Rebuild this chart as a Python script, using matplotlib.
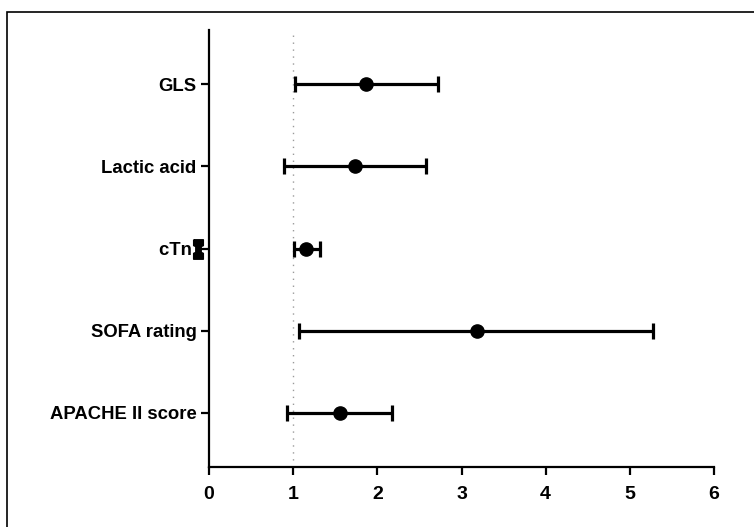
import numpy as np
import matplotlib.pyplot as plt
from matplotlib.patches import Rectangle
from matplotlib.path import Path

# Data (estimate with 95% CI)
labels = ["GLS", "Lactic acid", "cTn", "SOFA rating", "APACHE II score"]
estimate = [1.87, 1.73, 1.15, 3.18, 1.56]
ci_low = [1.02, 0.89, 1.01, 1.07, 0.93]
ci_high = [2.72, 2.58, 1.32, 5.28, 2.18]
x_ticks = [0, 1, 2, 3, 4, 5, 6]

plt.rcParams['font.family'] = ['Liberation Sans', 'DejaVu Sans']

fig = plt.figure(figsize=(7.54, 5.27), dpi=100)
ax = fig.add_axes([209/754, 1 - 467/527, (714 - 209)/754, (467 - 30)/527])

y = np.arange(len(labels))
est = np.array(estimate)
lo = np.array(ci_low)
hi = np.array(ci_high)

# reference line at 1
ax.axvline(1, color='#9a9a9a', linestyle=(0, (1, 4)), linewidth=1, zorder=1)

ax.errorbar(est, y, xerr=[est - lo, hi - est], fmt='o', color='black',
            markersize=9.5, elinewidth=2.3, capsize=6, capthick=2.3, zorder=3)

# small glyph next to the cTn label
hourglass = Path([(-0.5, 1), (0.5, 1), (0.5, 0.4), (0.28, 0.3), (0.28, -0.3),
                  (0.5, -0.4), (0.5, -1), (-0.5, -1), (-0.5, -0.4),
                  (-0.28, -0.3), (-0.28, 0.3), (-0.5, 0.4), (-0.5, 1)])
i = labels.index("cTn")
ax.plot([-0.13], [y[i]], marker=hourglass, markersize=14, color='black',
        linestyle='none', clip_on=False)

ax.set_xlim(0, 6)
ax.set_ylim(len(labels) - 1 + 0.66, -0.66)
ax.set_xticks(x_ticks)
ax.set_yticks(y)
# extra room after "cTn" for the glyph
ax.set_yticklabels([s + " " if s == "cTn" else s for s in labels])

for lab in ax.get_yticklabels():
    lab.set_fontweight('bold')
    lab.set_fontsize(13.3)
for lab in ax.get_xticklabels():
    lab.set_fontweight('bold')
    lab.set_fontsize(14)

ax.spines['top'].set_visible(False)
ax.spines['right'].set_visible(False)
ax.spines['left'].set_linewidth(1.6)
ax.spines['bottom'].set_linewidth(1.6)
ax.tick_params(axis='both', width=1.6, length=6, colors='black')
ax.tick_params(axis='y', pad=3)
ax.tick_params(axis='x', pad=8)

# frame around the figure
fig.patches.append(Rectangle((7/754, -0.05), 1.0, 1.05 - 12/527,
                             transform=fig.transFigure, fill=False,
                             edgecolor='black', linewidth=1.2))

fig.savefig("out.png", dpi=100)
